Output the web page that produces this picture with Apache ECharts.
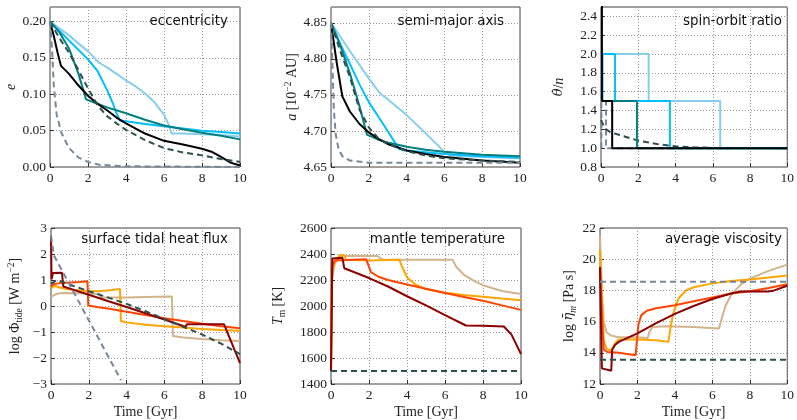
<!DOCTYPE html>
<html><head><meta charset="utf-8">
<script src="https://cdn.jsdelivr.net/npm/echarts@6/dist/echarts.min.js"></script>
<style>html,body{margin:0;padding:0;background:#fff}#c{width:797px;height:420px}</style>
</head><body><div id="c"></div>
<script>
// ---- time axis ticks ----
const timeTicks = [0, 2, 4, 6, 8, 10];
const panelTitles = ['eccentricity', 'semi-major axis', 'spin-orbit ratio', 'surface tidal heat flux', 'mantle temperature', 'average viscosity'];

// ---- eccentricity ----
const eccSky = [[0,0.2],[1,0.181],[2,0.159],[2.6,0.143],[3,0.137],[3.5,0.128],[4,0.119],[4.5,0.111],[5,0.101],[5.5,0.089],[6,0.072],[6.25,0.058],[6.4,0.046],[7,0.046],[8,0.045],[9,0.044],[10,0.042]];
const eccBlue = [[0,0.2],[0.5,0.187],[1,0.174],[1.5,0.161],[2,0.148],[2.5,0.132],[3,0.106],[3.3,0.088],[3.5,0.074],[3.68,0.064],[4,0.063],[5,0.059],[6,0.056],[7,0.053],[8,0.05],[9,0.048],[10,0.046]];
const eccTeal = [[0,0.2],[0.5,0.185],[1,0.163],[1.5,0.128],[1.9,0.093],[2.5,0.087],[3,0.082],[4,0.074],[5,0.065],[6,0.057],[7,0.052],[8,0.047],[9,0.043],[10,0.038]];
const eccBlack = [[0,0.2],[0.2,0.18],[0.4,0.157],[0.58,0.139],[1,0.128],[1.5,0.112],[2,0.098],[2.5,0.087],[3,0.078],[3.5,0.068],[4,0.06],[5,0.046],[6,0.036],[7,0.031],[8,0.025],[8.5,0.021],[9,0.014],[9.5,0.006],[10,0.002]];
const eccDarkDash = [[0,0.2],[0.5,0.177],[1,0.157],[1.5,0.133],[2,0.108],[2.5,0.085],[3,0.07],[3.5,0.06],[4,0.051],[5,0.037],[6,0.026],[7,0.02],[8,0.016],[9,0.011],[10,0.007]];
const eccGrayDash = [[0,0.2],[0.1,0.165],[0.2,0.112],[0.35,0.072],[0.6,0.047],[1,0.026],[1.5,0.013],[2,0.007],[2.6,0.003],[4,0.001],[10,0]];

// ---- semi-major axis [1e-2 AU] ----
const aSky = [[0,4.85],[1,4.811],[2,4.773],[2.6,4.752],[3,4.744],[4,4.722],[5,4.697],[6,4.671],[6.3,4.666],[8,4.664],[10,4.662]];
const aBlue = [[0,4.85],[0.5,4.82],[1,4.793],[1.5,4.765],[2,4.74],[2.5,4.72],[3,4.70],[3.5,4.679],[3.6,4.675],[4,4.673],[6,4.668],[8,4.665],[10,4.663]];
const aTeal = [[0,4.85],[0.5,4.818],[1,4.78],[1.5,4.735],[1.9,4.695],[2.5,4.688],[3,4.684],[4,4.678],[5,4.674],[6,4.671],[8,4.667],[10,4.665]];
const aBlack = [[0,4.85],[0.3,4.795],[0.6,4.748],[1,4.727],[1.5,4.71],[2,4.698],[2.5,4.689],[3,4.682],[4,4.673],[5,4.668],[6,4.664],[8,4.659],[10,4.656]];
const aDarkDash = [[0,4.85],[0.5,4.81],[1,4.775],[1.5,4.73],[2,4.705],[2.5,4.69],[3,4.682],[4,4.672],[5,4.666],[6,4.662],[8,4.659],[10,4.657]];
const aGrayDash = [[0,4.85],[0.08,4.79],[0.15,4.73],[0.25,4.695],[0.4,4.675],[0.6,4.665],[1,4.659],[2,4.656],[10,4.656]];

// ---- spin-orbit ratio ----
const sSky = [[0.08,2.0],[2.56,2.0],[2.56,1.5],[6.4,1.5],[6.4,1.0],[10,1.0]];
const sBlue = [[0.08,1.5],[0.08,2.0],[0.75,2.0],[0.75,1.5],[3.7,1.5],[3.7,1.0],[10,1.0]];
const sTeal = [[0.08,1.5],[1.93,1.5],[1.93,1.0],[10,1.0]];
const sBlack = [[0.05,2.6],[0.05,1.5],[0.6,1.5],[0.6,1.0],[10,1.0]];
const sDarkDash = [[0,1.3],[0.2,1.21],[0.5,1.17],[1,1.14],[2,1.08],[3,1.045],[4,1.02],[5,1.01],[6,1.003],[10,1.0]];
const sGrayDash = [[0.02,1.0],[0.02,1.5],[0.27,1.5],[0.27,1.0],[10,1.0]];

// ---- surface tidal heat flux (log W m^-2) ----
const fTan = [[0,0.35],[0.3,0.47],[0.6,0.5],[1.5,0.49],[2.55,0.46],[2.62,0.33],[4,0.33],[5,0.35],[6.4,0.37],[6.45,-1.15],[7,-1.21],[8,-1.27],[9,-1.32],[10,-1.35]];
const fOrange = [[0,0.68],[0.2,0.78],[0.5,0.7],[1,0.63],[2,0.57],[2.6,0.58],[3,0.6],[3.65,0.65],[3.7,-0.58],[4,-0.63],[5,-0.72],[6,-0.78],[7,-0.83],[8,-0.88],[9,-0.92],[10,-0.95]];
const fOrangeRed = [[0,0.75],[0.15,0.85],[0.5,0.88],[1,0.9],[1.5,0.92],[1.93,0.95],[1.97,0.02],[2.5,-0.05],[3,-0.1],[4,-0.22],[5,-0.35],[6,-0.47],[7,-0.58],[8,-0.68],[9,-0.78],[10,-0.86]];
const fDarkRed = [[0,2.7],[0.03,1.03],[0.1,1.27],[0.58,1.28],[0.65,0.75],[1,0.67],[2,0.43],[3,0.19],[4,-0.04],[5,-0.28],[6,-0.52],[7.1,-0.8],[7.2,-0.7],[8,-0.7],[9.15,-0.7],[10,-2.2]];
const fDarkDash = [[0,0.85],[0.3,1.0],[1,0.82],[2,0.57],[3,0.33],[4,0.08],[5,-0.2],[6,-0.5],[7,-0.8],[8,-1.1],[9,-1.45],[10,-1.85]];
const fGrayDash = [[0,2.7],[0.15,1.95],[3.7,-2.85]];

// ---- mantle temperature [K] ----
const tTan = [[0,1500],[0.05,2200],[0.2,2330],[0.5,2385],[2.45,2385],[2.6,2365],[2.8,2355],[6.4,2355],[6.6,2300],[7,2240],[7.5,2195],[8,2160],[9,2115],[10,2092]];
const tOrange = [[0,1500],[0.05,2250],[0.2,2340],[0.45,2390],[0.7,2390],[0.8,2355],[2,2350],[3.6,2355],[3.75,2300],[4,2220],[4.5,2160],[5,2130],[6,2102],[7,2085],[8,2072],[9,2058],[10,2045]];
const tOrangeRed = [[0,1500],[0.05,2300],[0.2,2350],[1.85,2360],[1.95,2320],[2.1,2260],[2.5,2225],[3,2200],[4,2165],[5,2132],[6,2100],[7,2070],[8,2040],[9,2005],[10,1970]];
const tDarkRed = [[0,1500],[0.07,2365],[0.6,2372],[0.7,2290],[2,2215],[3,2150],[4,2075],[5,2005],[6,1930],[7.1,1850],[8,1848],[9.1,1842],[9.5,1780],[10,1630]];
const tDarkDash = [[0,1500],[10,1500]];

// ---- average viscosity (log Pa s) ----
const vTan = [[0,21.5],[0.1,18],[0.2,16],[0.35,15.3],[0.6,15.1],[1,15.0],[2,15.0],[2.55,14.95],[2.65,15.4],[2.8,15.65],[3.5,15.7],[5,15.65],[6.35,15.55],[6.5,16.2],[6.7,17.0],[7,17.7],[7.5,18.35],[8,18.75],[9,19.25],[10,19.65]];
const vOrange = [[0,20.6],[0.1,17.5],[0.2,14.8],[0.35,14.25],[0.6,14.15],[0.8,14.6],[1,14.85],[2,14.85],[3,14.8],[3.65,14.7],[3.75,15.5],[3.9,16.5],[4.2,17.5],[4.6,18.0],[5,18.2],[6,18.45],[7,18.6],[8,18.7],[9,18.82],[10,18.95]];
const vOrangeRed = [[0,19.5],[0.1,16.5],[0.2,14.2],[0.4,14.05],[1,14.0],[1.9,13.85],[1.95,14.5],[2.05,15.8],[2.2,16.4],[2.5,16.7],[3,16.85],[4,17.05],[5,17.3],[6,17.55],[7,17.8],[8,17.95],[9,18.15],[10,18.4]];
const vDarkRed = [[0,19.5],[0.05,16],[0.1,13.0],[0.6,12.85],[0.65,14.2],[0.8,14.5],[1,14.7],[2,15.25],[3,15.9],[4,16.5],[5,17.0],[6,17.45],[7,17.8],[7.5,17.93],[9,17.93],[9.3,18.0],[10,18.3]];
const vGrayDash = [[0,18.55],[10,18.55]];
const vDarkDash = [[0,13.55],[10,13.55]];

// ---- styling ----
const C = {sky:'#87CEEB', blue:'#00BFFF', teal:'#008080', black:'#000000', dslate:'#2F4F4F', lslate:'#778899',
           tan:'#D2B48C', orange:'#FFA500', ored:'#FF4500', dred:'#8B0000'};
const SERIF = '"Liberation Serif", "DejaVu Serif", serif';
const SANS = '"DejaVu Sans", sans-serif';

const grids = [
  {left:50, top:7, width:190, height:160},
  {left:331, top:7, width:189, height:160},
  {left:601, top:7, width:189, height:160},
  {left:51, top:228, width:189, height:159},
  {left:331, top:228, width:190, height:159},
  {left:600, top:228, width:190, height:159}
].map(g => Object.assign(g, {show:true, borderColor:'#444', borderWidth:1, backgroundColor:'transparent', containLabel:false}));

const fmt = d => v => (d ? v.toFixed(d) : String(Math.round(v))).replace('-', '\u2212');
const rich = {
  it:{fontFamily:SERIF, fontStyle:'italic', fontSize:14, color:'#222', lineHeight:18},
  th:{fontFamily:'"DejaVu Serif", serif', fontStyle:'italic', fontSize:13, color:'#222', lineHeight:18},
  n:{fontFamily:SERIF, fontSize:14, color:'#222', lineHeight:18},
  sub:{fontFamily:SERIF, fontSize:9.5, color:'#222', verticalAlign:'bottom'},
  subi:{fontFamily:SERIF, fontStyle:'italic', fontSize:9.5, color:'#222', verticalAlign:'bottom'},
  sup:{fontFamily:SERIF, fontSize:9.5, color:'#222', verticalAlign:'top'}
};
function yAx(i, min, max, interval, d, name, gap) {
  return {type:'value', gridIndex:i, min, max, interval,
    name, nameLocation:'middle', nameGap:gap, nameRotate:90,
    nameTextStyle:{fontFamily:SERIF, fontSize:14, color:'#222', rich},
    axisLine:{show:false, onZero:false}, axisTick:{show:true, inside:true, length:4, lineStyle:{color:'#333'}},
    axisLabel:{fontFamily:SERIF, fontSize:13.5, color:'#222', margin:4, formatter:fmt(d), showMaxLabel: (max % interval === 0)},
    splitLine:{show:true, lineStyle:{color:'#999', type:[1,2], width:1}}};
}
function xAx(i, withName) {
  return {type:'value', gridIndex:i, min:timeTicks[0], max:timeTicks[timeTicks.length-1], interval:timeTicks[1]-timeTicks[0],
    name: withName ? '{n|Time [Gyr]}' : '', nameLocation:'middle', nameGap:19,
    nameTextStyle:{fontFamily:SERIF, fontSize:14, color:'#222', rich},
    axisLine:{show:false, onZero:false}, axisTick:{show:true, inside:true, length:4, lineStyle:{color:'#333'}},
    axisLabel:{fontFamily:SERIF, fontSize:13.5, color:'#222', margin:4, formatter:fmt(0)},
    splitLine:{show:true, lineStyle:{color:'#999', type:[1,2], width:1}}};
}
const xAxes = [0,1,2,3,4,5].map(i => xAx(i, i >= 3));
const yAxes = [
  yAx(0, 0, 0.22, 0.05, 2, '{it|e}', 30),
  yAx(1, 4.65, 4.872, 0.05, 2, '{it|a}{n| [10}{sup|\u22122}{n| AU]}', 20),
  yAx(2, 0.8, 2.5, 0.2, 1, '{th|\u03B8\u0307}{n|/}{it|n}', 33),
  yAx(3, -3, 3, 1, 0, '{n|log \u03A6}{sub|tide}{n| [W m}{sup|\u22122}{n|]}', 27),
  yAx(4, 1400, 2600, 200, 0, '{it|T}{sub|m}{n| [K]}', 44),
  yAx(5, 12, 22, 2, 0, '{n|log }{th|\u03B7\u0304}{subi|m}{n| [Pa s]}', 22)
];

function line(i, data, color, dashed) {
  return {type:'line', xAxisIndex:i, yAxisIndex:i, data, symbol:'none', showSymbol:false, silent:true, animation:false,
    clip:true, lineStyle:{color, width:2, type: dashed ? [6,4] : 'solid'}};
}
const series = [
  line(0, eccSky, C.sky), line(0, eccBlue, C.blue), line(0, eccTeal, C.teal), line(0, eccBlack, C.black),
  line(0, eccDarkDash, C.dslate, true), line(0, eccGrayDash, C.lslate, true),
  line(1, aSky, C.sky), line(1, aBlue, C.blue), line(1, aTeal, C.teal), line(1, aBlack, C.black),
  line(1, aDarkDash, C.dslate, true), line(1, aGrayDash, C.lslate, true),
  line(2, sGrayDash, C.lslate, true), line(2, sDarkDash, C.dslate, true),
  line(2, sSky, C.sky), line(2, sBlue, C.blue), line(2, sTeal, C.teal), line(2, sBlack, C.black),
  line(3, fTan, C.tan), line(3, fOrange, C.orange), line(3, fOrangeRed, C.ored), line(3, fDarkRed, C.dred),
  line(3, fDarkDash, C.dslate, true), line(3, fGrayDash, C.lslate, true),
  line(4, tTan, C.tan), line(4, tOrange, C.orange), line(4, tOrangeRed, C.ored), line(4, tDarkRed, C.dred),
  line(4, tDarkDash, C.dslate, true),
  line(5, vTan, C.tan), line(5, vOrange, C.orange), line(5, vOrangeRed, C.ored), line(5, vDarkRed, C.dred),
  line(5, vGrayDash, C.lslate, true), line(5, vDarkDash, C.dslate, true)
];

const titlePos = [[228,22],[504,22],[782,22],[228,240],[505,240],[782,240]];
const graphic = panelTitles.map((t, i) => ({type:'text', x:titlePos[i][0], y:titlePos[i][1], z:100,
  style:{text:t, fill:'#111', font:'13.4px ' + SANS, textAlign:'right', textVerticalAlign:'middle'}}));

const chart = echarts.init(document.getElementById('c'), null, {renderer:'canvas'});
chart.setOption({animation:false, grid:grids, xAxis:xAxes, yAxis:yAxes, series, graphic});
</script></body></html>
